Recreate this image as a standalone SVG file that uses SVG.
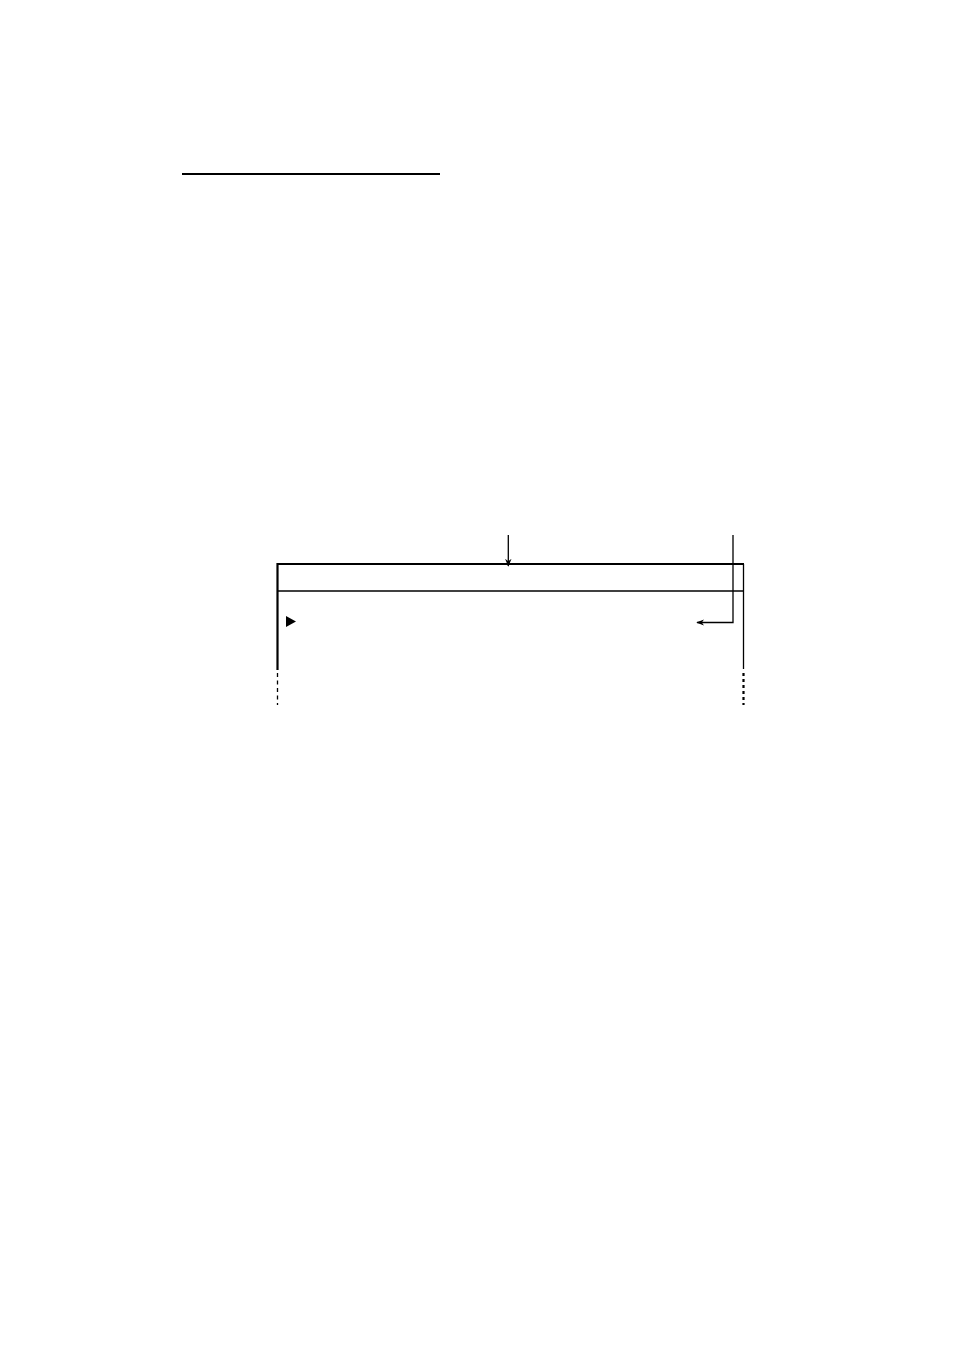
<svg xmlns="http://www.w3.org/2000/svg" width="954" height="1351" viewBox="0 0 954 1351">
<style>
.thick{stroke:#000;stroke-width:2.2;fill:none}
.thin{stroke:#000;stroke-width:1.3;fill:none}
</style>
<defs>
<marker id="ah" viewBox="0 0 10 10" refX="9" refY="5" markerWidth="8" markerHeight="8" orient="auto" markerUnits="userSpaceOnUse">
<path d="M0,1 L10,5 L0,9 L3,5 z" fill="#000"/>
</marker>
</defs>
<rect width="954" height="1351" fill="#fff"/>
<line class="thick" x1="182" y1="174" x2="440" y2="174"/>
<g id="panel">
<polyline class="thick" points="277.5,670 277.5,564 744,564"/>
<line class="thin" x1="743.5" y1="564" x2="743.5" y2="669"/>
<line class="thin" x1="277.5" y1="591" x2="743.5" y2="591"/>
<line stroke="#000" stroke-width="1.3" stroke-dasharray="4,3.5" x1="277.5" y1="673" x2="277.5" y2="705"/>
<line stroke="#000" stroke-width="2.2" stroke-dasharray="3,3" x1="743.5" y1="673" x2="743.5" y2="705"/>
<polygon points="286,616 296,621.5 286,627" fill="#000"/>
</g>
<g id="connectors">
<line class="thin" x1="508.3" y1="535" x2="508.3" y2="566" marker-end="url(#ah)"/>
<polyline class="thin" points="733,535 733,622.5 697,622.5" marker-end="url(#ah)"/>
</g>
</svg>
